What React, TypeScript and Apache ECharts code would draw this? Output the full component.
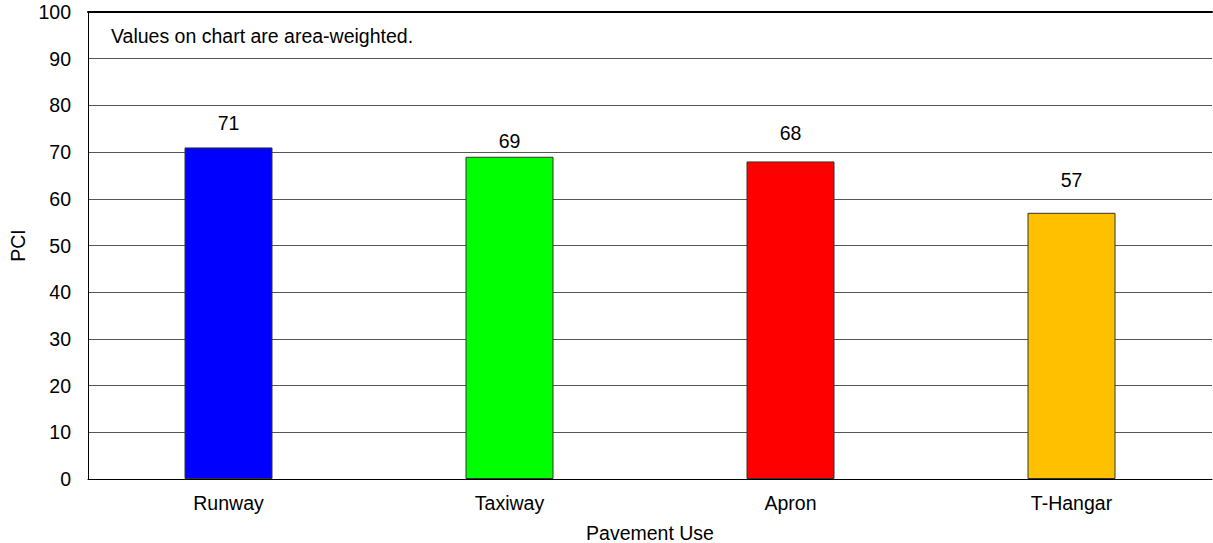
import React, { useEffect, useRef } from "react";
import * as echarts from "echarts";

// Pavement condition by use (area-weighted PCI)
const categories = ["Runway", "Taxiway", "Apron", "T-Hangar"];
const pciValues = [71, 69, 68, 57];
const barColors = ["#0000FF", "#00FF00", "#FF0000", "#FFC000"];
const yTicks = { min: 0, max: 100, interval: 10 };

// vertical gap between each bar top and its value label
const labelGap = [13, 5, 17, 22];

const FONT = "'Liberation Sans', Arial, sans-serif";
const FS = 19.5;

export default function App() {
  const ref = useRef<HTMLDivElement>(null);

  useEffect(() => {
    if (!ref.current) return;
    const chart = echarts.init(ref.current, null, { renderer: "svg" });

    const option: any = {
      animation: false,
      backgroundColor: "#ffffff",
      textStyle: { fontFamily: FONT },
      grid: {
        left: 88,
        right: 1,
        top: 12,
        bottom: 64,
        containLabel: false,
        outerBoundsMode: "none",
      },
      xAxis: [
        {
          type: "category",
          data: categories,
          name: "Pavement Use",
          nameLocation: "middle",
          nameGap: 44,
          nameTextStyle: { fontSize: FS, color: "#000", fontFamily: FONT },
          axisLine: { show: true, lineStyle: { color: "#000", width: 1 } },
          axisTick: { show: false },
          axisLabel: { fontSize: FS, color: "#000", margin: 14, fontFamily: FONT },
        },
        {
          type: "category",
          data: categories,
          position: "top",
          axisLine: { show: true, onZero: false, lineStyle: { color: "#000", width: 2 } },
          axisTick: { show: false },
          axisLabel: { show: false },
        },
      ],
      yAxis: {
        type: "value",
        min: yTicks.min,
        max: yTicks.max,
        interval: yTicks.interval,
        name: "PCI",
        nameLocation: "middle",
        nameGap: 60,
        nameTextStyle: { fontSize: FS, color: "#000", fontFamily: FONT },
        axisLine: { show: true, lineStyle: { color: "#000", width: 1 } },
        axisTick: { show: false },
        axisLabel: { fontSize: FS, color: "#000", margin: 17, fontFamily: FONT },
        splitLine: { show: true, lineStyle: { color: "#555", width: 1 } },
      },
      graphic: [
        {
          type: "text",
          left: 111,
          top: 26,
          style: {
            text: "Values on chart are area-weighted.",
            fontSize: FS,
            fontFamily: FONT,
            fill: "#000",
          },
        },
      ],
      series: [
        {
          type: "bar",
          barWidth: 88,
          data: pciValues.map((v, i) => ({
            value: v,
            itemStyle: { color: barColors[i], borderColor: "#333", borderWidth: 1 },
            label: { distance: labelGap[i] },
          })),
          label: {
            show: true,
            position: "top",
            fontSize: FS,
            color: "#000",
            fontFamily: FONT,
            backgroundColor: "#fff",
            padding: [1, 4],
          },
        },
      ],
    };

    chart.setOption(option);
    return () => chart.dispose();
  }, []);

  return (
    <div
      ref={ref}
      style={{ position: "fixed", left: 0, top: 0, width: 1213, height: 543, background: "#fff" }}
    />
  );
}
